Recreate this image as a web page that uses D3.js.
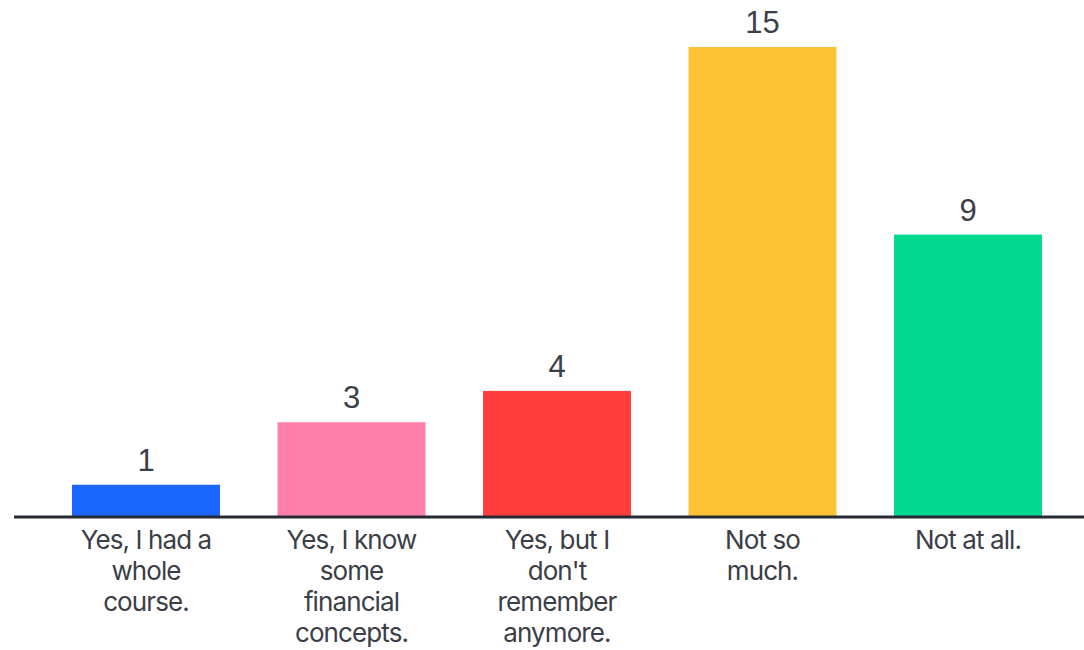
<!DOCTYPE html>
<html>
<head>
<meta charset="utf-8">
<script src="https://cdn.jsdelivr.net/npm/d3@7"></script>
<style>
  body { margin: 0; background: #fff; }
  .lbl { font-family: Inter, "Noto Sans", sans-serif; font-size: 26px; fill: #3b3e46; letter-spacing: -0.9px; }
  .val { font-family: "Liberation Sans", Arial, sans-serif; font-size: 31px; fill: #3b3e46; }
</style>
</head>
<body>
<svg id="chart"></svg>
<script>
var w = 1084;
var h = 650;
let categories = ["Yes, I had a whole course.", "Yes, I know some financial concepts.", "Yes, but I don't remember anymore.", "Not so much.", "Not at all."];
let labelLines = [
    ["Yes, I had a", "whole", "course."],
    ["Yes, I know", "some", "financial", "concepts."],
    ["Yes, but I", "don't", "remember", "anymore."],
    ["Not so", "much."],
    ["Not at all."]
];
let values = [1, 3, 4, 15, 9];
let colors = ["#1a66ff", "#ff7eaa", "#ff3d3d", "#ffc235", "#00d98f"];

var baseY = 516;
var svg = d3.select("#chart")
    .attr("width", w)
    .attr("height", h);

var x = d3.scaleBand()
    .domain(categories)
    .range([43.25, 1070.75])
    .paddingInner(0.28)
    .paddingOuter(0.14);

var y = d3.scaleLinear()
    .domain([0, 15])
    .range([baseY, 47]);

//bars
svg.selectAll("rect.bar")
    .data(values)
    .enter()
    .append("rect")
    .attr("class", "bar")
    .attr("x", (d, i) => x(categories[i]))
    .attr("y", d => y(d))
    .attr("width", x.bandwidth())
    .attr("height", d => baseY - y(d))
    .attr("fill", (d, i) => colors[i]);

//value labels
svg.selectAll("text.val")
    .data(values)
    .enter()
    .append("text")
    .attr("class", "val")
    .attr("x", (d, i) => x(categories[i]) + x.bandwidth() / 2)
    .attr("y", d => y(d) - 14)
    .attr("text-anchor", "middle")
    .text(d => d);

//baseline
svg.append("line")
    .attr("x1", 14)
    .attr("x2", w)
    .attr("y1", baseY + 1)
    .attr("y2", baseY + 1)
    .attr("stroke", "#262a33")
    .attr("stroke-width", 3);

//category labels
labelLines.forEach((lines, i) => {
    var cx = x(categories[i]) + x.bandwidth() / 2;
    var t = svg.append("text")
        .attr("class", "lbl")
        .attr("text-anchor", "middle")
        .attr("x", cx)
        .attr("y", 549);
    lines.forEach((l, j) => {
        t.append("tspan")
            .attr("x", cx)
            .attr("dy", j == 0 ? 0 : 31)
            .text(l);
    });
});
</script>
</body>
</html>
